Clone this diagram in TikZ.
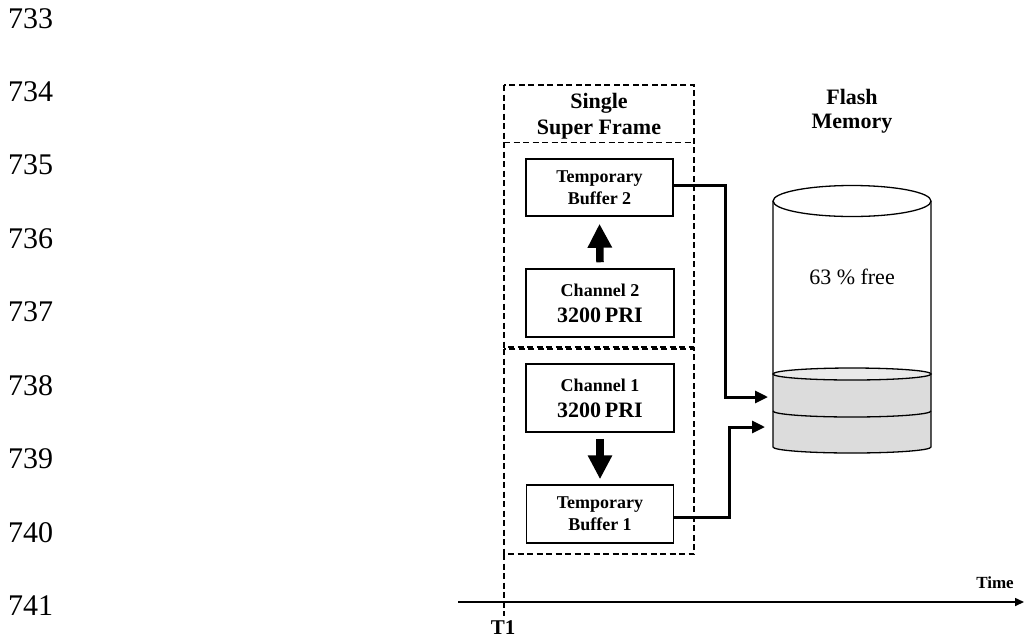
\documentclass[tikz,border=0pt]{standalone}
\usepackage{fontspec}
\setmainfont{Liberation Serif}
\usetikzlibrary{arrows.meta}
\definecolor{fillgray}{HTML}{DCDCDC}
\definecolor{topgray}{HTML}{EAEAEA}
\begin{document}
\begin{tikzpicture}[x=1pt,y=-1pt,
  frame/.style={draw, line width=1.3pt, dash pattern=on 6pt off 3.5pt},
  blk/.style={draw, line width=1.5pt, inner sep=0pt, align=center},
  bufbox/.style={blk, minimum width=147pt, minimum height=57pt, font=\fontsize{18}{22}\selectfont\bfseries},
  chbox/.style={blk, minimum width=148pt, minimum height=68pt, font=\fontsize{18}{26}\selectfont\bfseries},
  blkarrow/.style={line width=7.5pt, -{Triangle[width=23pt,length=24pt]}},
  conn/.style={line width=3pt, line join=miter, -{Triangle[width=12pt,length=13pt]}},
  num/.style={anchor=west, inner sep=0pt, text height=20pt, text depth=0pt, font=\fontsize{30}{30}\selectfont},
  lbl/.style={inner sep=0pt, align=center}
]
\useasboundingbox (0,0) rectangle (1024,638);

% line numbers
\foreach \n [count=\i from 0] in {733,734,735,736,737,738,739,740,741}
  \node[num] (ln\n) at (8,18+73.45*\i) {\n};

% super frame boxes
\draw[frame] (504,85) rectangle (694,347);
\draw[frame] (504,142.7) -- (694,142.7);
\draw[frame] (504,349) rectangle (694,554);
\draw[frame] (504,554) -- (504,616);
\node[lbl, font=\fontsize{22}{26}\selectfont\bfseries] (hdr) at (599,116) {Single\\Super Frame};

% inner boxes
\node[bufbox] (buf2) at (599.5,187.5) {Temporary\\Buffer 2};
\node[chbox] (ch2) at (600,303) {Channel 2\\{\fontsize{22}{26}\selectfont 3200\,PRI}};
\node[chbox] (ch1) at (600,398) {Channel 1\\{\fontsize{22}{26}\selectfont 3200\,PRI}};
\node[bufbox, minimum height=58pt] (buf1) at (600,514) {Temporary\\Buffer 1};

\draw[blkarrow] ([yshift=6pt]ch2.north) -- ([yshift=-7pt]buf2.south);
\draw[blkarrow] ([yshift=-6pt]ch1.south) -- ([yshift=5pt]buf1.north);

% flash memory cylinder
\fill[fillgray] (773,374) -- (773,447) arc[start angle=180, end angle=360, x radius=79pt, y radius=6pt]
  -- (931,374) arc[start angle=0, end angle=-180, x radius=79pt, y radius=6pt] -- cycle;
\draw[line width=1.3pt, fill=topgray] (852,374) ellipse[x radius=79pt, y radius=6pt];
\draw[line width=1.3pt] (773,411) arc[start angle=180, end angle=360, x radius=79pt, y radius=6pt];
\draw[line width=1.3pt] (773,201) -- (773,447) arc[start angle=180, end angle=360, x radius=79pt, y radius=6pt] -- (931,201);
\draw[line width=1.3pt] (852,201) ellipse[x radius=79pt, y radius=15.5pt];
\node[lbl, font=\fontsize{22}{26}\selectfont] (free) at (852,277) {63 \% free};
\node[lbl, font=\fontsize{22}{24}\selectfont\bfseries] (flash) at (852,111) {Flash\\Memory};

\coordinate (in2) at (768,397);
\coordinate (in1) at (765,427);
\draw[conn] ([yshift=2pt]buf2.east) -- ++(52,0) |- (in2);
\draw[conn] ([yshift=-3pt]buf1.east) -- ++(55,0) |- (in1);

% time axis
\coordinate (ax0) at (458,602);
\coordinate (ax1) at (1024,602);
\draw[line width=1.5pt, -{Triangle[width=8pt,length=9pt]}] (ax0) -- (ax1);
\node[lbl, font=\fontsize{17}{20}\selectfont\bfseries] (time) at (995,583) {Time};
\node[lbl, font=\fontsize{21}{24}\selectfont\bfseries] (t1) at (503,628) {T1};
\end{tikzpicture}
\end{document}
